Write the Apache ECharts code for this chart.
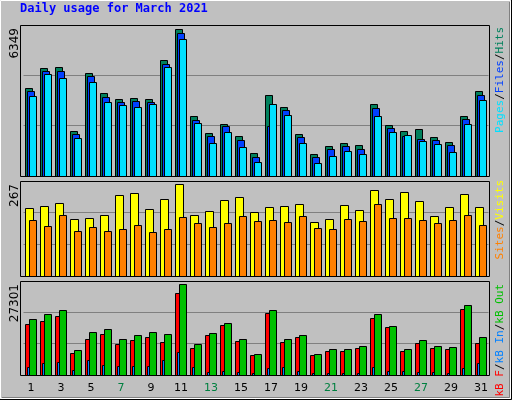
<!DOCTYPE html>
<html><head><meta charset="utf-8">
<script src="https://cdn.jsdelivr.net/npm/echarts@6/dist/echarts.min.js"></script>
<style>html,body{margin:0;padding:0;background:#c0c0c0}#c{width:512px;height:400px}</style>
</head><body><div id="c"></div>
<script>
var days = ['1','2','3','4','5','6','7','8','9','10','11','12','13','14','15','16','17','18','19','20','21','22','23','24','25','26','27','28','29','30','31'];
var weekend = ['6','7','13','14','20','21','27','28'];
var hits  = [3795,4661,4704,1934,4444,3579,3319,3362,3319,5007,6349,2583,1847,2237,1717,981,3492,2973,1804,938,1284,1414,1328,3102,2193,1934,2020,1674,1457,2583,3665];
var files = [3665,4531,4531,1804,4315,3405,3189,3232,3189,4834,6176,2410,1717,2150,1544,808,2150,2843,1674,808,1154,1284,1154,2929,2063,1717,1587,1544,1328,2453,3492];
var pages = [3449,4401,4228,1631,4055,3189,3059,2973,3102,4704,5916,2280,1414,1890,1241,592,3102,2626,1414,548,851,1068,938,2583,1890,1760,1501,1371,1025,2237,3276];
var visits = [197,203,212,165,168,177,235,241,194,223,267,179,188,220,229,185,200,203,209,156,165,206,191,250,223,244,217,174,200,238,200];
var sites  = [162,145,177,130,142,130,136,148,127,136,171,153,142,153,174,159,162,156,174,139,136,165,159,209,168,168,162,153,162,177,148];
var kbF   = [15300,16200,17700,6600,10800,12300,9300,10500,11400,9900,24600,8100,12000,15000,10200,6000,18600,9900,11400,6000,7200,7200,8100,17100,14400,7200,9600,8100,7800,19800,9600];
var kbIn  = [2400,3600,3900,1500,4500,3000,2700,2700,2700,4500,6900,2400,900,1200,900,600,2100,2400,1200,600,600,600,600,2400,1200,1200,900,900,600,2100,3600];
var kbOut = [16800,18300,19500,7500,12900,13800,10800,12000,12900,12300,27300,9300,12600,15600,10800,6300,19500,10800,12000,6300,7800,7800,8700,18300,14700,7800,10500,8700,8400,21000,11400];
var maxHits = 6349, maxVisits = 267, maxKB = 27301;

var chart = echarts.init(document.getElementById('c'));

function barSeries(vals, gi, color, dx, w) {
  return {
    type: 'custom', xAxisIndex: gi, yAxisIndex: gi,
    data: vals.map(function (v, i) { return [i, v]; }),
    renderItem: function (params, api) {
      var top = api.coord([api.value(0), api.value(1)]);
      var base = api.coord([api.value(0), 0]);
      return {
        type: 'rect',
        shape: { x: Math.round(top[0] + dx) + 0.5, y: Math.round(top[1]) + 0.5, width: w, height: Math.round(base[1] - top[1]) },
        style: { fill: color, stroke: '#000', lineWidth: 1 }
      };
    }
  };
}

var grids = [
  { left: 23.5, width: 465, top: 25, height: 151 },
  { left: 23.5, width: 465, top: 181, height: 95 },
  { left: 23.5, width: 465, top: 281, height: 94 }
];
var tops = [maxHits * 151 / 146.7, maxVisits * 95 / 91.7, maxKB * 94 / 91];

function panel(y, h) {
  return { type: 'rect', shape: { x: 20.5, y: y + 0.5, width: 469, height: h }, style: { fill: 'none', stroke: '#000', lineWidth: 1 }, z: 10 };
}
function vtext(x, y, t, rich, extra) {
  return { type: 'text', x: x, y: y, rotation: Math.PI / 2, z: 20,
    style: Object.assign({ text: t, align: 'right', verticalAlign: 'middle', font: '11px "DejaVu Sans Mono"', rich: rich, fill: '#000' }, extra || {}) };
}
var mono = { fontFamily: 'DejaVu Sans Mono', fontSize: 11 };
function rc(c) { return Object.assign({ fill: c, color: c }, mono); }

chart.setOption({
  animation: false,
  backgroundColor: '#c0c0c0',
  grid: grids,
  xAxis: grids.map(function (g, i) {
    return {
      type: 'category', gridIndex: i, data: days, boundaryGap: true,
      axisLine: { show: false }, axisTick: { show: false },
      axisLabel: i < 2 ? { show: false } : {
        show: true, margin: 8, fontSize: 11, fontFamily: 'DejaVu Sans',
        color: function (v) { return weekend.indexOf(v) >= 0 ? '#008040' : '#000'; }
      }
    };
  }),
  yAxis: grids.map(function (g, i) {
    return {
      type: 'value', gridIndex: i, min: 0, max: tops[i], interval: tops[i] / 3,
      axisLabel: { show: false }, axisLine: { show: false }, axisTick: { show: false },
      splitLine: { show: true, lineStyle: { color: '#808080', width: 1 } }
    };
  }),
  series: [
    barSeries(hits, 0, '#00805c', -6, 7),
    barSeries(files, 0, '#0040ff', -4, 7),
    barSeries(pages, 0, '#00e0ff', -2, 7),
    barSeries(visits, 1, '#ffff00', -6, 8),
    barSeries(sites, 1, '#ff8000', -2, 7),
    barSeries(kbF, 2, '#ff0000', -6, 7),
    barSeries(kbIn, 2, '#0080ff', -4, 2),
    barSeries(kbOut, 2, '#00c000', -2, 7)
  ],
  graphic: [
    { type: 'rect', shape: { x: 0.5, y: 0.5, width: 510, height: 398 }, style: { fill: 'none', stroke: '#fff', lineWidth: 1 } },
    { type: 'polyline', shape: { points: [[511.5, 0], [511.5, 399.5], [0, 399.5]] }, style: { stroke: '#000', lineWidth: 1, fill: 'none' } },
    { type: 'polyline', shape: { points: [[509.5, 2], [509.5, 397.5], [2, 397.5]] }, style: { stroke: '#808080', lineWidth: 1, fill: 'none' } },
    { type: 'text', x: 20, y: 9, style: { text: 'Daily usage for March 2021', font: 'bold 12px "DejaVu Sans Mono"', fill: '#0000ff', verticalAlign: 'middle' } },
    panel(25, 151), panel(181, 95), panel(281, 94),
    vtext(15, 28, String(maxHits), null, { font: '12px "DejaVu Sans"' }),
    vtext(15, 184, String(maxVisits), null, { font: '12px "DejaVu Sans"' }),
    vtext(15, 284, String(maxKB), null, { font: '12px "DejaVu Sans"' }),
    vtext(500, 27, '{p|Pages}{k|/}{f|Files}{k|/}{h|Hits}', { p: rc('#00e0ff'), f: rc('#0040ff'), h: rc('#00805c'), k: rc('#000') }),
    vtext(500, 180, '{s|Sites}{k|/}{v|Visits}', { s: rc('#ff8000'), v: rc('#ffff00'), k: rc('#000') }),
    vtext(500, 284, '{r|kB F}{k|/}{b|kB In}{k|/}{g|kB Out}', { r: rc('#ff0000'), b: rc('#0080ff'), g: rc('#00c000'), k: rc('#000') })
  ]
});
</script></body></html>
